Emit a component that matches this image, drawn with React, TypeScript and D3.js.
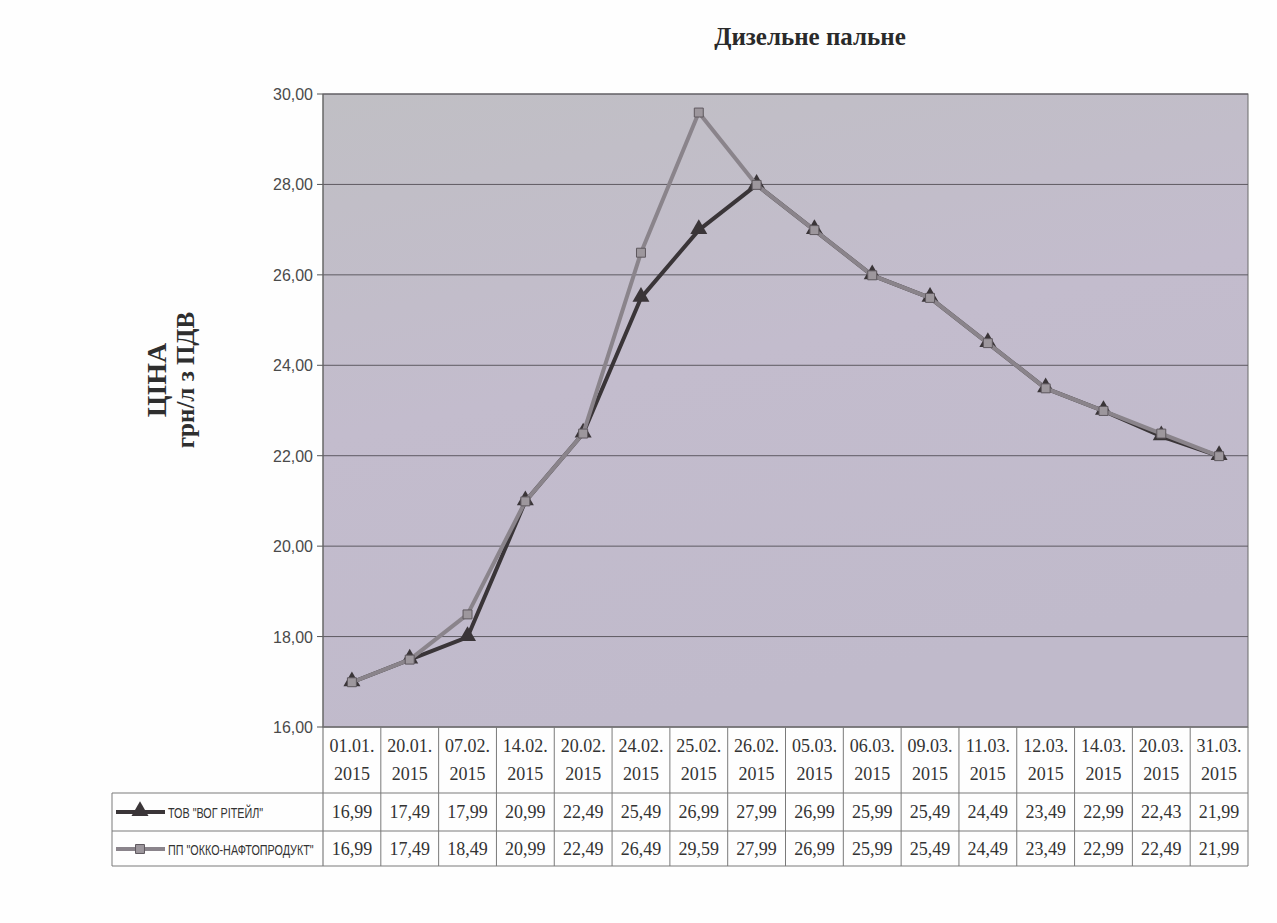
import React from "react";
import * as d3 from "d3";

const categories = ["01.01.", "20.01.", "07.02.", "14.02.", "20.02.", "24.02.", "25.02.", "26.02.", "05.03.", "06.03.", "09.03.", "11.03.", "12.03.", "14.03.", "20.03.", "31.03."];
const yearLabel = "2015";
const vogValues = [16.99, 17.49, 17.99, 20.99, 22.49, 25.49, 26.99, 27.99, 26.99, 25.99, 25.49, 24.49, 23.49, 22.99, 22.43, 21.99];
const okkoValues = [16.99, 17.49, 18.49, 20.99, 22.49, 26.49, 29.59, 27.99, 26.99, 25.99, 25.49, 24.49, 23.49, 22.99, 22.49, 21.99];
const yTicks = [16, 18, 20, 22, 24, 26, 28, 30];
const seriesNames = ["ТОВ \"ВОГ РІТЕЙЛ\"", "ПП \"ОККО-НАФТОПРОДУКТ\""];
const title = "Дизельне пальне";
const yTitle1 = "ЦІНА";
const yTitle2 = "грн/л з ПДВ";

const W = 1277, H = 923;
const plot = { left: 323, right: 1248, top: 94, bottom: 727 };
const table = { left: 112, headerBottom: 793, row1Bottom: 831, row2Bottom: 866 };

const sans = "'Liberation Sans Narrow', 'Arial Narrow', 'Liberation Sans', sans-serif";
const serif = "'Liberation Serif', 'Times New Roman', serif";

const fmt = (v: number) => d3.format(".2f")(v).replace(".", ",");

export default function App() {
  const x = d3.scaleBand<string>().domain(categories).range([plot.left, plot.right]).padding(0);
  const y = d3.scaleLinear().domain([16, 30]).range([plot.bottom, plot.top]);
  const cx = (c: string) => (x(c) as number) + x.bandwidth() / 2;

  const line = d3.line<number>().x((_, i) => cx(categories[i])).y((v) => y(v));
  const tri = d3.symbol().type(d3.symbolTriangle).size(125)();
  const sq = d3.symbol().type(d3.symbolSquare).size(80)();

  const vogColor = "#3a3538";
  const okkoColor = "#8a848b";

  return (
    <svg width={W} height={H} style={{ position: "absolute", left: 0, top: 0, background: "#fefefe" }}>
      <defs>
        <linearGradient id="bg" x1="0" y1="0" x2="0.3" y2="1">
          <stop offset="0" stopColor="#c0bfc4" />
          <stop offset="0.5" stopColor="#c3bccd" />
          <stop offset="1" stopColor="#c0bacb" />
        </linearGradient>
      </defs>
      <text x={810} y={45} textAnchor="middle" fontFamily={serif} fontWeight="bold" fontSize={25} fill="#2a2a2a">{title}</text>

      {/* y titles */}
      <text transform="translate(166,380) rotate(-90)" textAnchor="middle" fontFamily={serif} fontWeight="bold" fontSize={28} fill="#2e2e2e">{yTitle1}</text>
      <text transform="translate(194,380) rotate(-90)" textAnchor="middle" fontFamily={serif} fontWeight="bold" fontSize={25} fill="#2e2e2e">{yTitle2}</text>

      {/* plot area */}
      <rect x={plot.left} y={plot.top} width={plot.right - plot.left} height={plot.bottom - plot.top} fill="url(#bg)" stroke="#6a6a6a" />
      {yTicks.map((t) => (
        <g key={t}>
          <line x1={plot.left} x2={plot.right} y1={y(t)} y2={y(t)} stroke="#5e5a62" strokeWidth={1} />
          <line x1={plot.left - 6} x2={plot.left} y1={y(t)} y2={y(t)} stroke="#555" />
          <text x={plot.left - 10} y={y(t) + 6} textAnchor="end" fontFamily={sans} fontSize={17} fill="#4a4a4a" textLength={40} lengthAdjust="spacingAndGlyphs">{fmt(t)}</text>
        </g>
      ))}
      <line x1={plot.left} x2={plot.left} y1={plot.top} y2={table.row2Bottom} stroke="#666" />

      {/* series */}
      <path d={line(vogValues) || ""} fill="none" stroke={vogColor} strokeWidth={4} strokeLinejoin="round" />
      {vogValues.map((v, i) => (
        <path key={"t" + i} d={tri || ""} transform={`translate(${cx(categories[i])},${y(v) - 1})`} fill={vogColor} />
      ))}
      <path d={line(okkoValues) || ""} fill="none" stroke={okkoColor} strokeWidth={4} strokeLinejoin="round" />
      {okkoValues.map((v, i) => (
        <path key={"s" + i} d={sq || ""} transform={`translate(${cx(categories[i])},${y(v)})`} fill="#9d979d" stroke="#5e585e" strokeWidth={1} />
      ))}

      {/* data table */}
      <g stroke="#7a7a7a" strokeWidth={1} fill="none">
        <line x1={plot.left} x2={plot.right} y1={plot.bottom} y2={plot.bottom} />
        <line x1={table.left} x2={plot.right} y1={table.headerBottom} y2={table.headerBottom} />
        <line x1={table.left} x2={plot.right} y1={table.row1Bottom} y2={table.row1Bottom} />
        <line x1={table.left} x2={plot.right} y1={table.row2Bottom} y2={table.row2Bottom} />
        <line x1={table.left} x2={table.left} y1={table.headerBottom} y2={table.row2Bottom} />
        {categories.map((c) => (
          <line key={c} x1={(x(c) as number) + x.bandwidth()} x2={(x(c) as number) + x.bandwidth()} y1={plot.bottom} y2={table.row2Bottom} />
        ))}
      </g>
      {categories.map((c, i) => (
        <g key={"h" + c} fontFamily={serif} fontSize={18} fill="#333" textAnchor="middle">
          <text x={cx(c)} y={752}>{c}</text>
          <text x={cx(c)} y={780}>{yearLabel}</text>
          <text x={cx(c)} y={818}>{fmt(vogValues[i])}</text>
          <text x={cx(c)} y={855}>{fmt(okkoValues[i])}</text>
        </g>
      ))}

      {/* legend keys */}
      <line x1={116} x2={165} y1={812} y2={812} stroke={vogColor} strokeWidth={4} />
      <path d={tri || ""} transform="translate(140,811)" fill={vogColor} />
      <text transform="translate(168,818) scale(0.72,1)" fontFamily={sans} fontSize={15} fill="#333">{seriesNames[0]}</text>
      <line x1={116} x2={165} y1={849} y2={849} stroke={okkoColor} strokeWidth={4} />
      <path d={sq || ""} transform="translate(140,849)" fill="#9d979d" stroke="#5e585e" />
      <text transform="translate(168,855) scale(0.72,1)" fontFamily={sans} fontSize={15} fill="#333">{seriesNames[1]}</text>
    </svg>
  );
}
